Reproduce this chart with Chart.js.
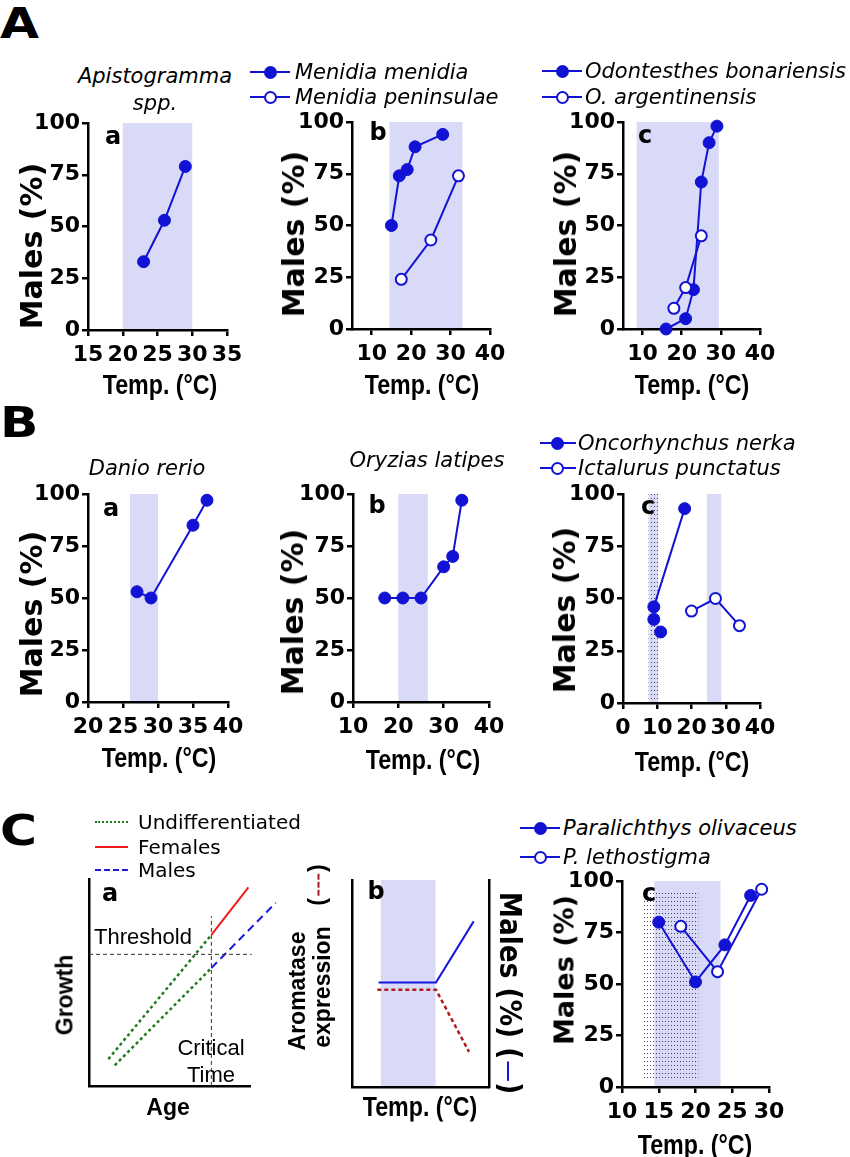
<!DOCTYPE html>
<html>
<head>
<meta charset="utf-8">
<script src="https://cdn.jsdelivr.net/npm/chart.js@4.4.1/dist/chart.umd.min.js"></script>
<style>
  body { margin: 0; background: #fff; }
  #fig { position: relative; width: 850px; height: 1157px; overflow: hidden; font-family: "DejaVu Sans", sans-serif; color: #000; }
  canvas { position: absolute; }
  .t { position: absolute; white-space: nowrap; line-height: 1; }
  .it { font-style: italic; font-size: 21px; }
  .yt { font-weight: bold; font-size: 30px; }
  .xt { font-family: "Liberation Sans", Arial, sans-serif; font-weight: bold; font-size: 27px; }
  .pl { font-weight: bold; font-size: 24px; }
  .big { font-weight: bold; font-size: 42px; }
  .lg { font-size: 20px; }
  .ar { font-family: "Liberation Sans", Arial, sans-serif; font-size: 22px; }
  .arb { font-family: "Liberation Sans", Arial, sans-serif; font-weight: bold; font-size: 23px; }
  .sw { position: absolute; height: 0; }
  .mk { position: absolute; width: 9px; height: 9px; border-radius: 50%; border: 2px solid #1515d5; }
  .seg { display: inline-block; vertical-align: middle; width: 22px; height: 0; margin: 0 2px; }
</style>
</head>
<body>
<div id="fig"></div>
<script>
// ---- A a: Apistogramma spp.
const apistoTemp = [23, 26, 29];
const apistoMales = [33, 53, 79];
const apistoBand = [20, 30];

// ---- A b: Menidia
const menidiaTemp = [15, 17, 19, 21, 28];
const menidiaMales = [50, 74, 77, 88, 94];
const peninsulaeTemp = [17.5, 25, 32];
const peninsulaeMales = [24, 43, 74];
const menidiaBand = [14.5, 33];

// ---- A c: Odontesthes
const bonariensisTemp = [16, 21, 23, 25, 27, 29];
const bonariensisMales = [0, 5, 19, 71, 90, 98];
const argentinensisTemp = [18, 21, 25];
const argentinensisMales = [10, 20, 45];
const odontesthesBand = [8.5, 29.5];

// ---- B a: Danio rerio
const danioTemp = [27, 29, 35, 37];
const danioMales = [53, 50, 85, 97];
const danioBand = [26, 30];

// ---- B b: Oryzias latipes
const oryziasTemp = [17, 21, 25, 30, 32, 34];
const oryziasMales = [50, 50, 50, 65, 70, 97];
const oryziasBand = [20, 26.5];

// ---- B c: Oncorhynchus / Ictalurus
const nerkaTemp = [9, 18];
const nerkaMales = [46, 93];
const nerkaLowTemp = [9, 11];
const nerkaLowMales = [40, 34];
const ictalurusTemp = [20, 27, 34];
const ictalurusMales = [44, 50, 37];
const nerkaBand = [7.5, 10.3];
const ictalurusBand = [24.5, 28.7];

// ---- C a: growth schematic
const undiffFemAge = [12, 76];
const undiffFemGrowth = [13, 73];
const femaleAge = [76, 99];
const femaleGrowth = [73, 96];
const undiffMaleAge = [16, 76];
const undiffMaleGrowth = [10, 57];
const maleAge = [76, 116];
const maleGrowth = [57, 88.5];
const thresholdAge = [0, 101];
const thresholdGrowth = [63.6, 63.6];
const criticalAge = [76, 76];
const criticalGrowth = [0, 82];

// ---- C b: aromatase schematic
const aromTemp = [18.5, 61.3, 85.4];
const aromLevel = [47, 47, 17];
const schemMalesTemp = [19.4, 61.3, 88.8];
const schemMalesLevel = [50.5, 50.5, 80];
const schemBand = [21, 61];

// ---- C c: Paralichthys
const olivaceusTemp = [15, 20, 24, 27.5];
const olivaceusMales = [80, 51, 69, 93];
const lethostigmaTemp = [18, 23, 29];
const lethostigmaMales = [78, 56, 96];
const paralichthysBand = [14.4, 23.4];
const paralichthysDots = [12.8, 20.4, 3, 95];

const malesTicks = [0, 25, 50, 75, 100];

const BLUE = '#1212d4';
const BAND = '#d8daf7';
const fig = document.getElementById('fig');

const pts = (xs, ys) => xs.map((x, i) => ({ x, y: ys[i] }));

function filledSeries(xs, ys, line = true) {
  return {
    data: pts(xs, ys), showLine: line, borderColor: BLUE, borderWidth: 2,
    pointRadius: 6, pointBorderWidth: 1, pointBackgroundColor: BLUE, pointBorderColor: BLUE, clip: false,
  };
}
function openSeries(xs, ys) {
  return {
    data: pts(xs, ys), showLine: true, borderColor: BLUE, borderWidth: 2,
    pointRadius: 5.5, pointBorderWidth: 2, pointBackgroundColor: '#fff', pointBorderColor: BLUE, clip: false,
  };
}
function lineSeries(xs, ys, color, width, dash) {
  return {
    data: pts(xs, ys), showLine: true, borderColor: color, borderWidth: width,
    borderDash: dash || [], pointRadius: 0, clip: false,
  };
}

let dotPat = null;
function dots(ctx) {
  if (!dotPat) {
    const c = document.createElement('canvas');
    c.width = 3; c.height = 4;
    const g = c.getContext('2d');
    g.fillStyle = 'rgba(30,30,50,0.8)';
    g.fillRect(1, 1, 1, 1);
    dotPat = ctx.createPattern(c, 'repeat');
  }
  return dotPat;
}

// shaded temperature windows, drawn through the chart's scales
const bandPlugin = {
  id: 'bands',
  beforeDraw(chart, args, opts) {
    const { ctx, scales: { x, y } } = chart;
    ctx.save();
    (opts.solid || []).forEach((b) => {
      const x0 = x.getPixelForValue(b[0]);
      const x1 = x.getPixelForValue(b[1]);
      const y0 = y.getPixelForValue(0);
      const y1 = y.getPixelForValue(100);
      ctx.fillStyle = BAND;
      ctx.fillRect(x0, y1, x1 - x0, y0 - y1);
    });
    (opts.dotted || []).forEach((b) => {
      const x0 = x.getPixelForValue(b[0]);
      const x1 = x.getPixelForValue(b[1]);
      const y0 = y.getPixelForValue(b.length > 2 ? b[2] : 0);
      const y1 = y.getPixelForValue(b.length > 3 ? b[3] : 100);
      ctx.fillStyle = dots(ctx);
      ctx.fillRect(x0, y1, x1 - x0, y0 - y1);
    });
    ctx.restore();
  },
};

function numAxis(min, max, ticks, size) {
  return {
    type: 'linear', min, max,
    afterBuildTicks: (s) => { s.ticks = ticks.map((v) => ({ value: v })); },
    afterFit: (s) => { if (s.isHorizontal()) s.height = size; else s.width = size; },
    border: { display: true, color: '#000', width: 2.5 },
    grid: { display: true, drawOnChartArea: false, drawTicks: true, tickLength: 6, color: '#000', lineWidth: 2.5 },
    ticks: { color: '#000', font: { family: 'DejaVu Sans', weight: 'bold', size: 22 }, padding: 2, autoSkip: false, maxRotation: 0 },
  };
}
function xAxis(min, max, ticks) {
  const a = numAxis(min, max, ticks, 50);
  a.ticks.padding = 6;
  return a;
}
function bareAxis(min, max, size, position) {
  return {
    type: 'linear', min, max, position,
    afterFit: (s) => { if (s.isHorizontal()) s.height = size; else s.width = size; },
    border: { display: true, color: '#000', width: 2.5 },
    grid: { display: false },
    ticks: { display: false },
  };
}

// box = plot area in page pixels; m = canvas margins around it
function panel(box, datasets, scales, bands, m) {
  m = Object.assign({ l: 75, t: 25, r: 25, b: 50 }, m || {});
  const cv = document.createElement('canvas');
  const W = box.R - box.L + m.l + m.r;
  const H = box.B - box.T + m.t + m.b;
  cv.width = W; cv.height = H;
  cv.style.left = (box.L - m.l) + 'px';
  cv.style.top = (box.T - m.t) + 'px';
  cv.style.width = W + 'px';
  cv.style.height = H + 'px';
  fig.appendChild(cv);
  return new Chart(cv, {
    type: 'scatter',
    data: { datasets },
    options: {
      responsive: false, animation: false, events: [],
      layout: { padding: { left: 0, top: m.t, right: m.padR !== undefined ? m.padR : m.r, bottom: 0 } },
      plugins: { legend: { display: false }, tooltip: { enabled: false }, bands: bands || {} },
      scales,
    },
    plugins: [bandPlugin],
  });
}

function txt(s, x, y, cls, opt) {
  opt = opt || {};
  const d = document.createElement('div');
  d.className = 't ' + cls;
  d.innerHTML = s;
  d.style.left = x + 'px';
  d.style.top = y + 'px';
  const ax = opt.left ? '0' : '-50%';
  d.style.transform = `translate(${ax},-50%)` + (opt.rot ? ` rotate(${opt.rot}deg)` : '') + (opt.sx ? ` scaleX(${opt.sx})` : '');
  if (opt.left) d.style.transformOrigin = '0 50%';
  if (opt.color) d.style.color = opt.color;
  if (opt.size) d.style.fontSize = opt.size + 'px';
  fig.appendChild(d);
  return d;
}

function legendItem(x0, x1, mx, y, filled, label, tx) {
  const l = document.createElement('div');
  l.className = 'sw';
  l.style.cssText = `left:${x0}px;top:${y - 1}px;width:${x1 - x0}px;border-top:2px solid ${BLUE};`;
  fig.appendChild(l);
  const c = document.createElement('div');
  c.className = 'mk';
  c.style.left = (mx - 6.5) + 'px';
  c.style.top = (y - 6.5) + 'px';
  c.style.background = filled ? BLUE : '#fff';
  c.style.borderColor = BLUE;
  fig.appendChild(c);
  txt(label, tx, y, 'it', { left: true });
}

function swatch(x0, x1, y, style) {
  const l = document.createElement('div');
  l.className = 'sw';
  l.style.cssText = `left:${x0}px;top:${y - 1}px;width:${x1 - x0}px;border-top:${style};`;
  fig.appendChild(l);
}

const tempTitle = (x, y) => txt('Temp. (°C)', x, y, 'xt', { sx: 0.86 });
const malesTitle = (x, y, size) => txt('Males (%)', x, y, 'yt', { rot: -90, size });

// ================= Row A =================
panel({ L: 88, T: 123, R: 227, B: 330 },
  [filledSeries(apistoTemp, apistoMales)],
  { x: xAxis(15, 35, [15, 20, 25, 30, 35]), y: numAxis(0, 100, malesTicks, 75) },
  { solid: [apistoBand] });
panel({ L: 352, T: 122, R: 490, B: 329 },
  [filledSeries(menidiaTemp, menidiaMales), openSeries(peninsulaeTemp, peninsulaeMales)],
  { x: xAxis(5, 40, [10, 20, 30, 40]), y: numAxis(0, 100, malesTicks, 75) },
  { solid: [menidiaBand] });
panel({ L: 623, T: 122, R: 760, B: 329 },
  [openSeries(argentinensisTemp, argentinensisMales), filledSeries(bonariensisTemp, bonariensisMales)],
  { x: xAxis(5, 40, [10, 20, 30, 40]), y: numAxis(0, 100, malesTicks, 75) },
  { solid: [odontesthesBand] });

txt('A', 0, 24, 'big', { left: true, sx: 1.2 });
txt('Apistogramma', 155, 76, 'it');
txt('spp.', 155, 103, 'it');
legendItem(250, 290, 270, 72, true, 'Menidia menidia', 295);
legendItem(250, 290, 270, 97, false, 'Menidia peninsulae', 295);
legendItem(542, 582, 562, 71, true, 'Odontesthes bonariensis', 585);
legendItem(542, 582, 562, 97, false, 'O. argentinensis', 585);
txt('a', 113, 136, 'pl');
txt('b', 378, 132, 'pl');
txt('c', 645, 135, 'pl');
malesTitle(32, 246); malesTitle(294, 234); malesTitle(566, 234);
tempTitle(160, 385); tempTitle(422, 385); tempTitle(692, 385);

// ================= Row B =================
panel({ L: 88, T: 494, R: 228, B: 702 },
  [filledSeries(danioTemp, danioMales)],
  { x: xAxis(20, 40, [20, 25, 30, 35, 40]), y: numAxis(0, 100, malesTicks, 75) },
  { solid: [danioBand] });
panel({ L: 353, T: 494, R: 489, B: 702 },
  [filledSeries(oryziasTemp, oryziasMales)],
  { x: xAxis(10, 40, [10, 20, 30, 40]), y: numAxis(0, 100, malesTicks, 75) },
  { solid: [oryziasBand] });
panel({ L: 623, T: 494, R: 760, B: 703 },
  [filledSeries(nerkaTemp, nerkaMales), filledSeries(nerkaLowTemp, nerkaLowMales, false), openSeries(ictalurusTemp, ictalurusMales)],
  { x: xAxis(0, 40, [0, 10, 20, 30, 40]), y: numAxis(0, 100, malesTicks, 75) },
  { solid: [nerkaBand, ictalurusBand], dotted: [nerkaBand] });

txt('B', 0, 423, 'big', { left: true, sx: 1.2 });
txt('Danio rerio', 147, 468, 'it');
txt('Oryzias latipes', 427, 460, 'it');
legendItem(540, 576, 557, 443, true, 'Oncorhynchus nerka', 578);
legendItem(540, 576, 557, 468, false, 'Ictalurus punctatus', 578);
txt('a', 111, 508, 'pl');
txt('b', 377, 505, 'pl');
txt('c', 648, 506, 'pl');
malesTitle(32, 614); malesTitle(293, 612); malesTitle(565, 610);
tempTitle(159, 758); tempTitle(423, 760); tempTitle(692, 762);

// ================= Row C =================
panel({ L: 89, T: 879, R: 250, B: 1086 },
  [
    lineSeries(thresholdAge, thresholdGrowth, '#333', 1, [4, 3]),
    lineSeries(criticalAge, criticalGrowth, '#333', 1, [4, 3]),
    lineSeries(undiffFemAge, undiffFemGrowth, '#1d7a1d', 2.5, [3, 3]),
    lineSeries(undiffMaleAge, undiffMaleGrowth, '#1d7a1d', 2.5, [3, 3]),
    lineSeries(femaleAge, femaleGrowth, '#ee1c1c', 2),
    lineSeries(maleAge, maleGrowth, '#1a1ae0', 2, [8, 5]),
  ],
  { x: bareAxis(0, 100, 20), y: bareAxis(0, 100, 20) },
  {}, { l: 20, r: 35, b: 20 });

panel({ L: 352, T: 880, R: 489, B: 1087 },
  [
    lineSeries(schemMalesTemp, schemMalesLevel, '#1515e0', 2),
    lineSeries(aromTemp, aromLevel, '#b01c1c', 2.5, [4, 3]),
  ],
  { x: bareAxis(0, 100, 20), y: bareAxis(0, 100, 20, 'left'), y2: bareAxis(0, 100, 20, 'right') },
  { solid: [schemBand] }, { l: 20, r: 20, b: 20, padR: 0 });

panel({ L: 622, T: 881, R: 769, B: 1087 },
  [
    openSeries(lethostigmaTemp, lethostigmaMales),
    filledSeries(olivaceusTemp, olivaceusMales),
  ],
  { x: xAxis(10, 30, [10, 15, 20, 25, 30]), y: numAxis(0, 100, malesTicks, 75) },
  { solid: [paralichthysBand], dotted: [paralichthysDots] });

txt('C', 0, 831, 'big', { left: true, sx: 1.2 });
swatch(95, 128, 822, '2.5px dotted #1d7a1d');
swatch(95, 128, 847, '2px solid #ee1c1c');
swatch(95, 128, 870, '2px dashed #1a1ae0');
txt('Undifferentiated', 138, 822, 'lg', { left: true });
txt('Females', 138, 847, 'lg', { left: true });
txt('Males', 138, 870, 'lg', { left: true });
txt('a', 110, 893, 'pl');
txt('Threshold', 143, 937, 'ar');
txt('Critical', 211, 1048, 'ar');
txt('Time', 211, 1075, 'ar');
txt('Growth', 65, 995, 'arb', { rot: -90 });
txt('Age', 168, 1107, 'arb');

txt('b', 376, 891, 'pl');
txt('Aromatase', 297, 991, 'arb', { rot: -90 });
txt('expression', 322, 987, 'arb', { rot: -90 });
txt('(<span class="seg" style="border-top:2.5px dashed #b01c1c"></span>)', 317, 885, 'arb', { rot: -90 });
txt('Males (%) (<span class="seg" style="border-top:2.5px solid #1515e0"></span>)', 510, 993, 'yt', { rot: 90, sx: 0.88 });
tempTitle(420, 1107);

legendItem(520, 560, 540, 828, true, 'Paralichthys olivaceus', 563);
legendItem(520, 560, 540, 857, false, 'P. lethostigma', 563);
txt('c', 649, 893, 'pl');
malesTitle(564, 970, 27);
tempTitle(695, 1145);
</script>
</body>
</html>
